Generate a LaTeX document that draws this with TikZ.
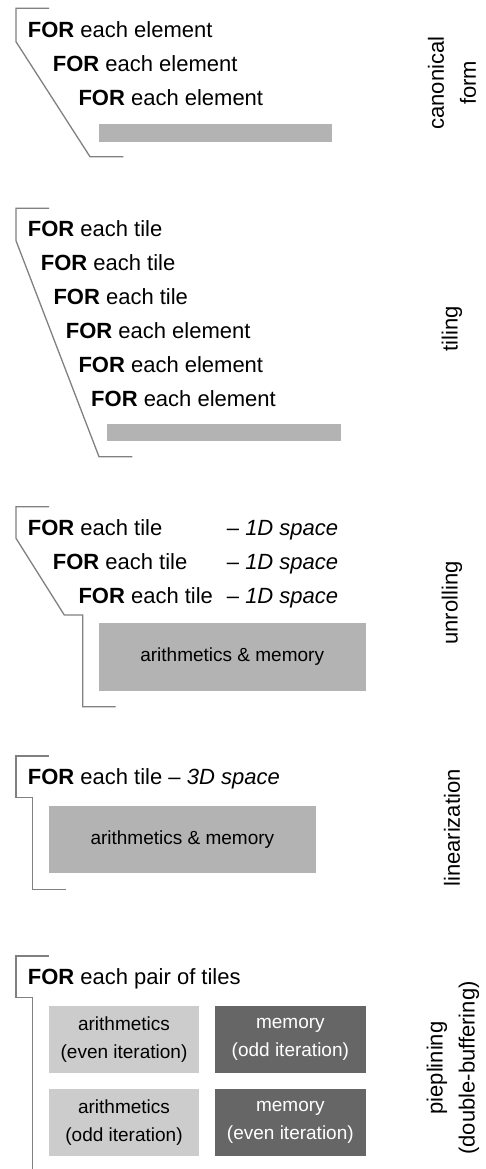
\documentclass[tikz,border=0pt]{standalone}
\usepackage{fontspec}
\setmainfont{Liberation Sans}
\definecolor{brk}{HTML}{808080}
\definecolor{barc}{HTML}{B3B3B3}
\definecolor{lightc}{HTML}{CCCCCC}
\definecolor{darkc}{HTML}{666666}
\begin{document}
\begin{tikzpicture}[x=1pt,y=-1pt,
  ft/.style={inner sep=0pt,anchor=base west,font=\fontsize{22}{26}\selectfont},
  lbl/.style={inner sep=0pt,rotate=90,align=center,font=\fontsize{22}{32}\selectfont},
  bar/.style={fill=barc,draw=none,inner sep=0pt},
  bigbox/.style={fill=barc,draw=none,inner sep=0pt,font=\fontsize{19}{28}\selectfont},
  ltbox/.style={fill=lightc,draw=none,inner sep=0pt,align=center,minimum width=150pt,minimum height=66.7pt,font=\fontsize{19}{28.3}\selectfont},
  dkbox/.style={fill=darkc,draw=none,inner sep=0pt,align=center,text=white,minimum width=150.7pt,minimum height=66.7pt,font=\fontsize{19}{28.3}\selectfont},
  brack/.style={draw=brk,line width=1.3pt,line join=miter}]
\useasboundingbox (0,0) rectangle (485,1169);

% ---- canonical form
\node[ft] (a1) at (27.7,37.3) {\textbf{FOR} each element};
\node[ft] (a2) at (52.7,71.7) {\textbf{FOR} each element};
\node[ft] (a3) at (78.3,106) {\textbf{FOR} each element};
\node[bar,minimum width=233.6pt,minimum height=17.7pt] (abar) at (215.5,132.8) {};
\draw[brack] (49,8.3) -- (16,8.3) -- (16,41.7) -- (90,156.7) -- (123.3,156.7);
\node[lbl] (la) at (452,83) {canonical\\form};

% ---- tiling
\node[ft] (b1) at (27.7,236.7) {\textbf{FOR} each tile};
\node[ft] (b2) at (40.7,270.7) {\textbf{FOR} each tile};
\node[ft] (b3) at (53.3,304.7) {\textbf{FOR} each tile};
\node[ft] (b4) at (65.7,338.7) {\textbf{FOR} each element};
\node[ft] (b5) at (78.3,372.7) {\textbf{FOR} each element};
\node[ft] (b6) at (91,406.7) {\textbf{FOR} each element};
\node[bar,minimum width=234pt,minimum height=16.7pt] (bbar) at (223.7,432.4) {};
\draw[brack] (49,208.3) -- (16,208.3) -- (16,240.7) -- (99,456.7) -- (132.3,456.7);
\node[lbl] (lb) at (452,329) {tiling};

% ---- unrolling
\node[ft] (c1) at (27.7,535) {\textbf{FOR} each tile};
\node[ft] (c2) at (52.7,569.3) {\textbf{FOR} each tile};
\node[ft] (c3) at (78.3,603.3) {\textbf{FOR} each tile};
\node[ft] (c1s) at (226.7,535) {– \textit{1D space}};
\node[ft] (c2s) at (226.7,569.3) {– \textit{1D space}};
\node[ft] (c3s) at (226.7,603.3) {– \textit{1D space}};
\node[bigbox,minimum width=267pt,minimum height=67.4pt] (cbox) at (232.2,657) {arithmetics \& memory};
\draw[brack] (49,506.7) -- (16,506.7) -- (16,538.3) -- (64.3,615) -- (82.7,615) -- (82.7,706.7) -- (115.7,706.7);
\node[lbl] (lc) at (452,603) {unrolling};

% ---- linearization
\node[ft] (d1) at (27.7,784.3) {\textbf{FOR} each tile – \textit{3D space}};
\node[bigbox,minimum width=266.7pt,minimum height=67.3pt] (dbox) at (182.35,839.65) {arithmetics \& memory};
\draw[brack] (49,756) -- (16,756) -- (16,797.7) -- (32.7,797.7) -- (32.7,889.3) -- (65.7,889.3);
\node[lbl] (ld) at (452,828) {linearization};

% ---- pipelining
\node[ft] (e1) at (27.7,984.3) {\textbf{FOR} each pair of tiles};
\node[ltbox] (e11) at (124,1039.35) {arithmetics\\(even iteration)};
\node[dkbox] (e12) at (290.35,1039.35) {memory\\(odd iteration)};
\node[ltbox] (e21) at (124,1122.65) {arithmetics\\(odd iteration)};
\node[dkbox] (e22) at (290.35,1122.65) {memory\\(even iteration)};
\draw[brack] (49,956) -- (16,956) -- (16,997.7) -- (32.7,997.7) -- (32.7,1169);
\node[lbl] (le) at (453,1068) {pieplining\\(double-buffering)};
\end{tikzpicture}
\end{document}
